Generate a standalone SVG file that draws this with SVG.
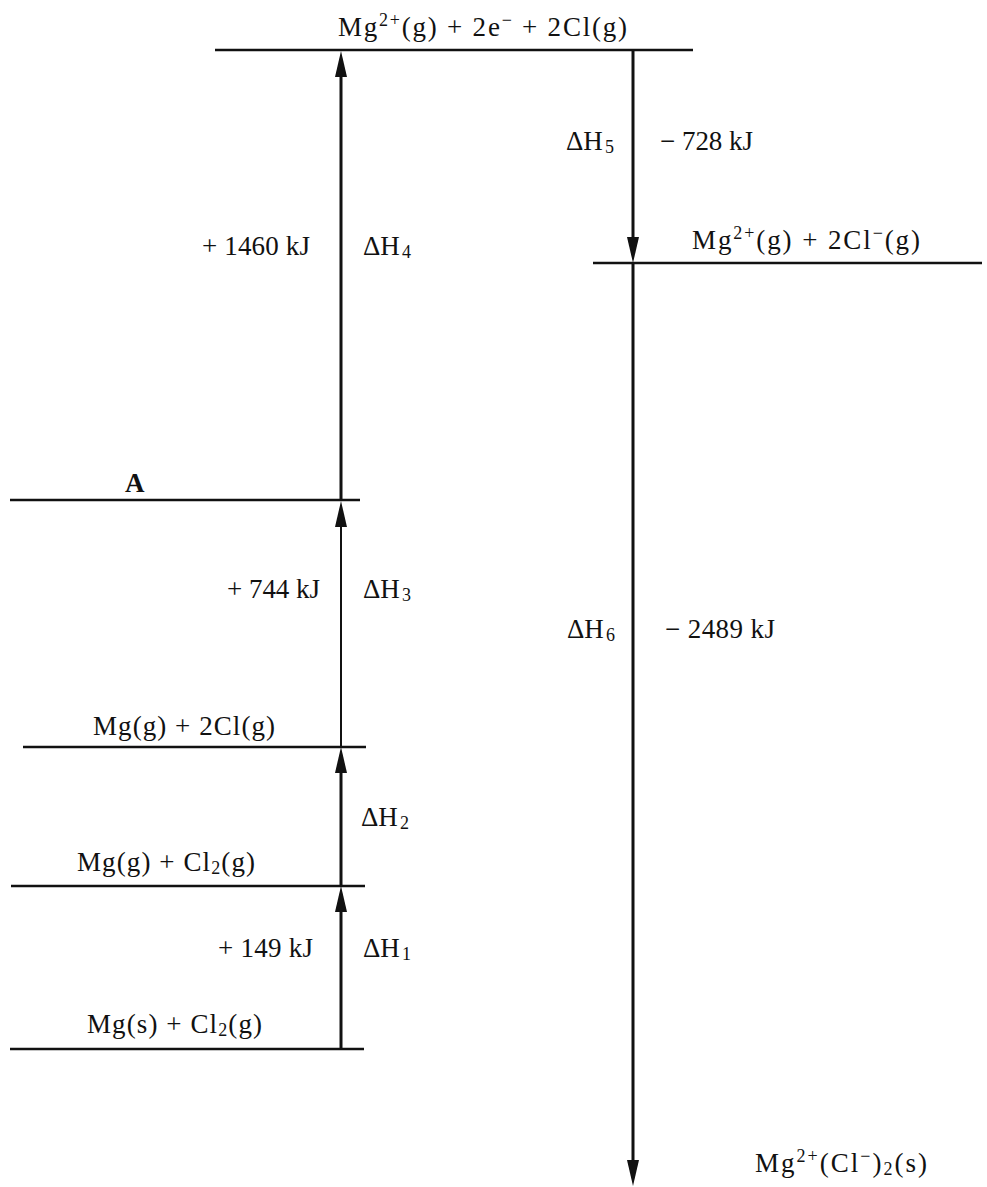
<svg xmlns="http://www.w3.org/2000/svg" width="987" height="1187" viewBox="0 0 987 1187">
<style>
text{font-family:"Liberation Serif","Times New Roman",serif;font-size:27px;fill:#111}
.lvl{stroke:#111;stroke-width:2.5;fill:none}
.arr{stroke:#111;stroke-width:3;fill:none;marker-end:url(#ah)}
.thin{stroke-width:2}
.sub{font-size:18px}
</style>
<defs>
<marker id="ah" markerUnits="userSpaceOnUse" markerWidth="30" markerHeight="14" refX="12" refY="6" orient="auto">
<path d="M0,0 L26,6 L0,12 z" fill="#111"/>
</marker>
</defs>
<rect width="987" height="1187" fill="#fff"/>
<g id="connectors">
<line class="arr" x1="341" y1="1049" x2="341" y2="900"/>
<line class="arr" x1="341" y1="886" x2="341" y2="761"/>
<line class="arr thin" x1="341" y1="747" x2="341" y2="515"/>
<line class="arr" x1="341" y1="501" x2="341" y2="65"/>
<line class="arr" x1="633" y1="50" x2="633" y2="249"/>
<line class="arr" x1="633" y1="263" x2="633" y2="1172"/>
</g>
<g id="level-top">
<line class="lvl" x1="215" y1="50" x2="693" y2="50"/>
<text x="338" y="36" textLength="289" lengthAdjust="spacing">Mg<tspan class="sub" dy="-10">2+</tspan><tspan dy="10">(g) + 2e</tspan><tspan class="sub" dy="-10">−</tspan><tspan dy="10"> + 2Cl(g)</tspan></text>
</g>
<g id="level-ions">
<line class="lvl" x1="593" y1="263" x2="982" y2="263"/>
<text x="692" y="249" textLength="228" lengthAdjust="spacing">Mg<tspan class="sub" dy="-10">2+</tspan><tspan dy="10">(g) + 2Cl</tspan><tspan class="sub" dy="-10">−</tspan><tspan dy="10">(g)</tspan></text>
</g>
<g id="level-A">
<line class="lvl" x1="10" y1="500" x2="360" y2="500"/>
<text x="125" y="492" font-weight="bold">A</text>
</g>
<g id="level-mg-2cl">
<line class="lvl" x1="23" y1="747" x2="366" y2="747"/>
<text x="93" y="735" textLength="182" lengthAdjust="spacing">Mg(g) + 2Cl(g)</text>
</g>
<g id="level-mg-cl2">
<line class="lvl" x1="11" y1="886" x2="365" y2="886"/>
<text x="77" y="871" textLength="178" lengthAdjust="spacing">Mg(g) + Cl<tspan class="sub" dy="3">2</tspan><tspan dy="-3">(g)</tspan></text>
</g>
<g id="level-mgs">
<line class="lvl" x1="10" y1="1049" x2="364" y2="1049"/>
<text x="87" y="1033" textLength="175" lengthAdjust="spacing">Mg(s) + Cl<tspan class="sub" dy="3">2</tspan><tspan dy="-3">(g)</tspan></text>
</g>
<g id="level-product">
<text x="755" y="1172" textLength="172" lengthAdjust="spacing">Mg<tspan class="sub" dy="-10">2+</tspan><tspan dy="10">(Cl</tspan><tspan class="sub" dy="-10">−</tspan><tspan dy="10">)</tspan><tspan class="sub" dy="3">2</tspan><tspan dy="-3">(s)</tspan></text>
</g>
<g id="labels">
<text x="202" y="255" textLength="108" lengthAdjust="spacing">+ 1460 kJ</text>
<text x="363" y="255">ΔH<tspan class="sub" dx="2" dy="3">4</tspan></text>
<text x="566" y="150">ΔH<tspan class="sub" dx="2" dy="3">5</tspan></text>
<text x="660" y="150" textLength="93" lengthAdjust="spacing">− 728 kJ</text>
<text x="227" y="598" textLength="93" lengthAdjust="spacing">+ 744 kJ</text>
<text x="363" y="598">ΔH<tspan class="sub" dx="2" dy="3">3</tspan></text>
<text x="361" y="826">ΔH<tspan class="sub" dx="2" dy="3">2</tspan></text>
<text x="218" y="957" textLength="95" lengthAdjust="spacing">+ 149 kJ</text>
<text x="363" y="957">ΔH<tspan class="sub" dx="2" dy="3">1</tspan></text>
<text x="567" y="638">ΔH<tspan class="sub" dx="2" dy="3">6</tspan></text>
<text x="665" y="638" textLength="110" lengthAdjust="spacing">− 2489 kJ</text>
</g>
</svg>
